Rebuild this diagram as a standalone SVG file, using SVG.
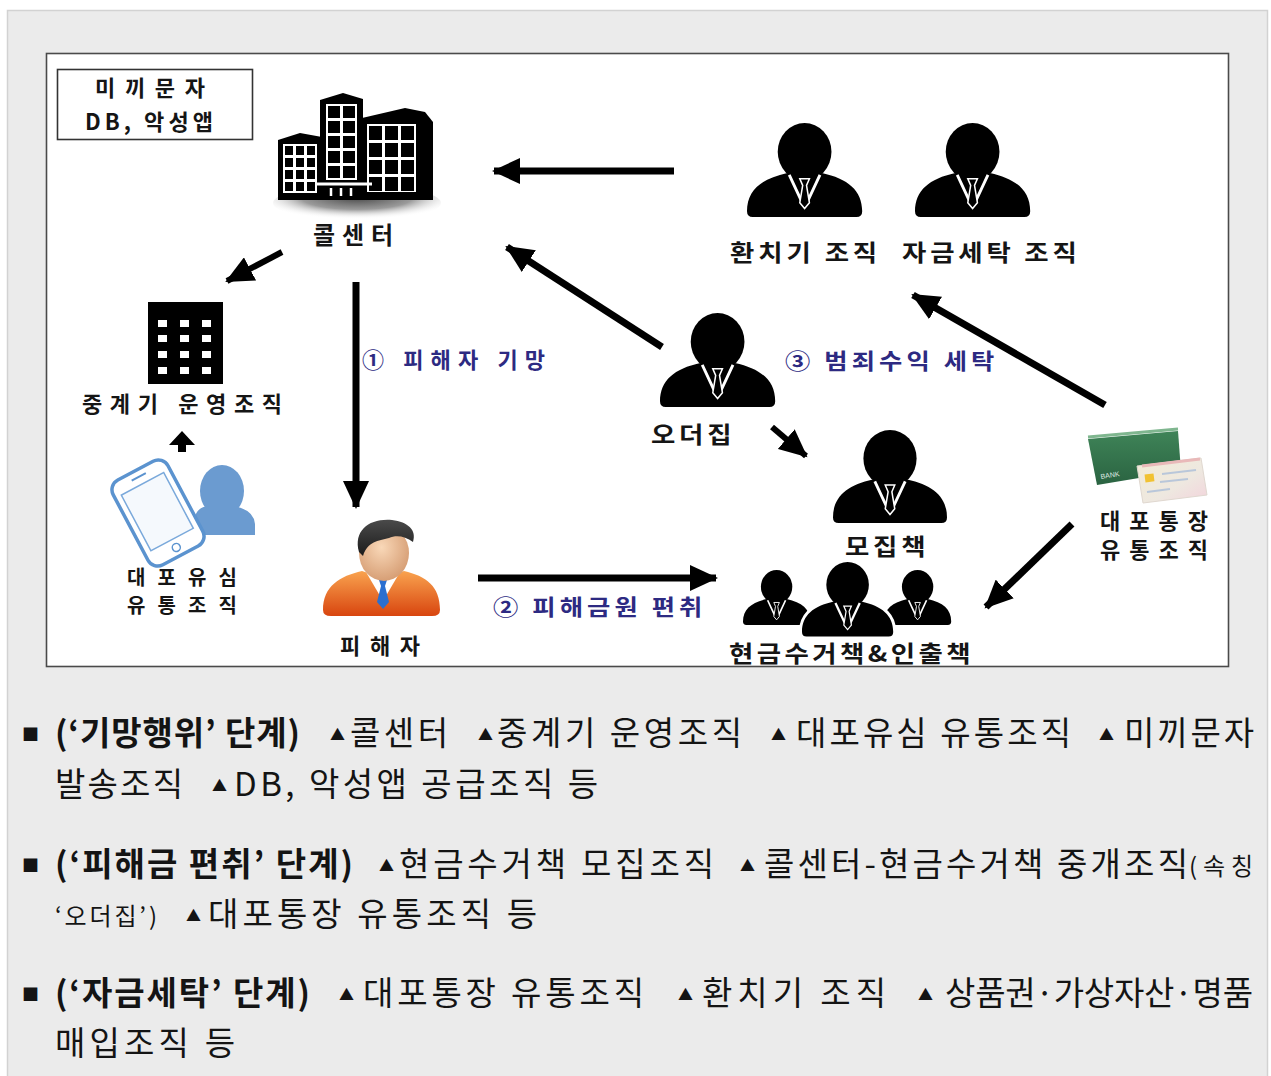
<svg xmlns="http://www.w3.org/2000/svg" xmlns:xlink="http://www.w3.org/1999/xlink" width="1271" height="1076" viewBox="0 0 1271 1076">
  <style>
    .lbl { font-family: "Noto Sans CJK KR", "Noto Sans", sans-serif; font-weight: 700; font-size: 22px; fill: #151515; }
    .wide { font-size: 23px; }
    .stage { font-family: "Noto Sans CJK KR", "Noto Sans", sans-serif; font-weight: 700; font-size: 22px; fill: #2d2a82; }
    .body { font-family: "Noto Sans CJK KR", "Noto Sans", sans-serif; font-size: 33px; fill: #141414; }
    .bold { font-weight: 700; }
    .sq { font-family: "Noto Sans CJK KR", "DejaVu Sans", sans-serif; font-size: 17px; fill: #141414; }
    .tri { font-family: "Noto Sans CJK KR", "DejaVu Sans", sans-serif; font-size: 15px; fill: #141414; }
    .sm { font-size: 24px; }
    .arrow { stroke: #000; stroke-width: 7; fill: none; }
    .thin { stroke-width: 6; }
  </style>
  <defs>
    <marker id="head" markerUnits="userSpaceOnUse" markerWidth="30" markerHeight="26" refX="26" refY="13" orient="auto">
      <path d="M0,0 L28,13 L0,26 Z" fill="#000"/>
    </marker>
    <!-- businessman silhouette, 120 x 98 -->
    <g id="person">
      <path d="M0,92 C0,70 15,58 42,52 L60,56 L78,52 C105,58 120,70 120,92 Q120,98 114,98 L6,98 Q0,98 0,92 Z"/>
      <ellipse cx="60" cy="30" rx="28" ry="30"/>
      <path d="M44,54 L58,84 M76,54 L62,84" stroke="#fff" stroke-width="3" fill="none"/>
      <path d="M55,58 L65,58 L62,65 L65,83 L60,89 L55,83 L58,65 Z" fill="#000" stroke="#fff" stroke-width="1.6"/>
    </g>
    <radialGradient id="shadow" cx="0.5" cy="0.35" r="0.6">
      <stop offset="0" stop-color="#4a4a4a"/>
      <stop offset="0.55" stop-color="#9a9a9a"/>
      <stop offset="1" stop-color="#ffffff" stop-opacity="0"/>
    </radialGradient>
    <radialGradient id="skin" cx="0.45" cy="0.4" r="0.65">
      <stop offset="0" stop-color="#f9d8b8"/>
      <stop offset="1" stop-color="#d49a70"/>
    </radialGradient>
    <linearGradient id="suit" x1="0" y1="0" x2="0" y2="1">
      <stop offset="0" stop-color="#f9a34f"/>
      <stop offset="1" stop-color="#d8450f"/>
    </linearGradient>
    <linearGradient id="hair" x1="0" y1="0" x2="0" y2="1">
      <stop offset="0" stop-color="#4a4a4a"/>
      <stop offset="1" stop-color="#1b1b1b"/>
    </linearGradient>
    <linearGradient id="green" x1="0" y1="0" x2="0" y2="1">
      <stop offset="0" stop-color="#3f8458"/>
      <stop offset="1" stop-color="#2a6341"/>
    </linearGradient>
    <linearGradient id="idcard" x1="0" y1="0" x2="1" y2="1">
      <stop offset="0" stop-color="#f2ecd6"/>
      <stop offset="0.6" stop-color="#eee8e0"/>
      <stop offset="1" stop-color="#f3d3dc"/>
    </linearGradient>
  </defs>

  <!-- page panel -->
  <rect x="0" y="0" width="1271" height="1076" fill="#ffffff"/>
  <rect x="7.5" y="10.5" width="1260" height="1070" fill="#ebebeb" stroke="#d2d2d2" stroke-width="1.5"/>

  <!-- diagram frame -->
  <rect x="46.5" y="53.5" width="1182" height="613" fill="#ffffff" stroke="#4a4a4a" stroke-width="1.6"/>

  <!-- connectors -->
  <g id="connectors">
    <line class="arrow" x1="674" y1="171" x2="494" y2="171" marker-end="url(#head)"/>
    <line class="arrow thin" x1="282" y1="252" x2="227" y2="281" marker-end="url(#head)"/>
    <line class="arrow" x1="356" y1="282" x2="356" y2="507" marker-end="url(#head)"/>
    <line class="arrow" x1="662" y1="347" x2="507" y2="247" marker-end="url(#head)"/>
    <line class="arrow" x1="1105" y1="405" x2="913" y2="295" marker-end="url(#head)"/>
    <line class="arrow thin" x1="772" y1="427" x2="806" y2="456" marker-end="url(#head)"/>
    <line class="arrow" x1="1072" y1="524" x2="986" y2="607" marker-end="url(#head)"/>
    <line class="arrow" x1="478" y1="578" x2="716" y2="578" marker-end="url(#head)"/>
    <path d="M178,452 L178,445 L169,445 L182,431 L195,445 L186,445 L186,452 Z" fill="#000"/>
  </g>

  <!-- bait SMS / DB / malicious app suppliers -->
  <g id="node-bait">
    <rect x="57.5" y="69.5" width="195" height="70" fill="#fff" stroke="#333" stroke-width="1.6"/>
    <text class="lbl" x="95" y="96" textLength="110">미끼문자</text>
    <text class="lbl" x="85" y="130" textLength="128">DB, 악성앱</text>
  </g>

  <!-- call center -->
  <g id="node-callcenter">
    <ellipse cx="357" cy="203" rx="84" ry="18" fill="url(#shadow)"/>
    <path d="M278,140 L300,133 L322,137 L322,198 L278,198 Z" fill="#000"/>
    <rect x="283" y="144" width="34" height="49" fill="#fff"/>
    <g fill="#000">
      <rect x="285" y="146" width="8" height="9"/><rect x="296" y="146" width="8" height="9"/><rect x="307" y="146" width="8" height="9"/>
      <rect x="285" y="158" width="8" height="9"/><rect x="296" y="158" width="8" height="9"/><rect x="307" y="158" width="8" height="9"/>
      <rect x="285" y="170" width="8" height="9"/><rect x="296" y="170" width="8" height="9"/><rect x="307" y="170" width="8" height="9"/>
      <rect x="285" y="182" width="8" height="9"/><rect x="296" y="182" width="8" height="9"/><rect x="307" y="182" width="8" height="9"/>
    </g>
    <path d="M362,118 L405,108 L425,112 L433,122 L433,196 L362,198 Z" fill="#000"/>
    <rect x="367" y="124" width="49" height="68" fill="#fff"/>
    <g fill="#000">
      <rect x="369" y="126" width="13" height="14"/><rect x="385" y="126" width="13" height="14"/><rect x="401" y="126" width="13" height="14"/>
      <rect x="369" y="143" width="13" height="14"/><rect x="385" y="143" width="13" height="14"/><rect x="401" y="143" width="13" height="14"/>
      <rect x="369" y="160" width="13" height="14"/><rect x="385" y="160" width="13" height="14"/><rect x="401" y="160" width="13" height="14"/>
      <rect x="369" y="177" width="13" height="14"/><rect x="385" y="177" width="13" height="14"/><rect x="401" y="177" width="13" height="14"/>
    </g>
    <path d="M320,100 L343,93 L363,99 L363,190 L320,190 Z" fill="#000"/>
    <rect x="326" y="104" width="31" height="76" fill="#fff"/>
    <g fill="#000">
      <rect x="328" y="106" width="12" height="12"/><rect x="343" y="106" width="12" height="12"/>
      <rect x="328" y="121" width="12" height="12"/><rect x="343" y="121" width="12" height="12"/>
      <rect x="328" y="136" width="12" height="12"/><rect x="343" y="136" width="12" height="12"/>
      <rect x="328" y="151" width="12" height="12"/><rect x="343" y="151" width="12" height="12"/>
      <rect x="328" y="166" width="12" height="12"/><rect x="343" y="166" width="12" height="12"/>
    </g>
    <path d="M316,184 L372,184" stroke="#fff" stroke-width="3"/>
    <rect x="322" y="186" width="42" height="12" fill="#000"/>
    <path d="M331,188 L331,198 M341,188 L341,198 M351,188 L351,198" stroke="#fff" stroke-width="2.5"/>
    <rect x="278" y="196" width="155" height="4" fill="#000"/>
    <text class="lbl" x="313" y="244" textLength="80" style="font-size:24px">콜센터</text>
  </g>

  <!-- SIM-box operators -->
  <g id="node-simbox">
    <rect x="148" y="302" width="75" height="82" fill="#000"/>
    <g fill="#fff">
      <rect x="158" y="320" width="9" height="7"/><rect x="180" y="320" width="9" height="7"/><rect x="202" y="320" width="9" height="7"/>
      <rect x="158" y="335" width="9" height="7"/><rect x="180" y="335" width="9" height="7"/><rect x="202" y="335" width="9" height="7"/>
      <rect x="158" y="351" width="9" height="7"/><rect x="180" y="351" width="9" height="7"/><rect x="202" y="351" width="9" height="7"/>
      <rect x="158" y="367" width="9" height="7"/><rect x="180" y="367" width="9" height="7"/><rect x="202" y="367" width="9" height="7"/>
    </g>
    <text class="lbl" x="82" y="412" textLength="200">중계기 운영조직</text>
  </g>

  <!-- burner SIM distributors -->
  <g id="node-sim">
    <ellipse cx="222" cy="491" rx="22" ry="26" fill="#6b9bd0"/>
    <path d="M195,535 L195,516 Q199,505 212,506 L234,506 Q254,510 255,524 L255,535 Z" fill="#6b9bd0"/>
    <g transform="rotate(-28 158 513)">
      <rect x="127" y="465" width="62" height="96" rx="11" fill="#fff" stroke="#5b93cf" stroke-width="3.5"/>
      <rect x="134" y="480" width="48" height="63" fill="#f5f9fd" stroke="#7aa9db" stroke-width="1.5"/>
      <path d="M150,472 L166,472" stroke="#5b93cf" stroke-width="2"/>
      <circle cx="158" cy="552" r="4" fill="none" stroke="#5b93cf" stroke-width="1.5"/>
    </g>
    <text class="lbl" x="127" y="585" textLength="110" style="font-size:20px">대포유심</text>
    <text class="lbl" x="127" y="613" textLength="110" style="font-size:20px">유통조직</text>
  </g>

  <!-- victim -->
  <g id="node-victim">
    <path d="M323,610 C323,586 340,576 362,571 L383,578 L404,571 C426,576 440,586 440,610 Q440,616 432,616 L331,616 Q323,616 323,610 Z" fill="url(#suit)"/>
    <path d="M366,572 L383,601 L400,572 Z" fill="#fff"/>
    <path d="M379,580 L387,580 L385,586 L389,602 L383,609 L377,602 L381,586 Z" fill="#2a6fd0"/>
    <ellipse cx="384" cy="553" rx="25" ry="28" fill="url(#skin)"/>
    <path d="M359,552 C353,530 370,518 392,520 C408,522 417,530 413,542 C405,536 396,535 389,538 C378,541 368,541 363,556 Z" fill="url(#hair)"/>
    <text class="lbl" x="340" y="654" textLength="80">피해자</text>
  </g>

  <!-- money exchange and laundering groups -->
  <g id="node-exchange">
    <use href="#person" transform="translate(747,123) scale(0.96)"/>
    <text class="lbl wide" transform="translate(730,261) scale(1.15,1)" textLength="128">환치기 조직</text>
  </g>
  <g id="node-laundering">
    <use href="#person" transform="translate(915,123) scale(0.96)"/>
    <text class="lbl wide" transform="translate(902,261) scale(1.15,1)" textLength="152">자금세탁 조직</text>
  </g>

  <!-- order house -->
  <g id="node-orderhouse">
    <use href="#person" transform="translate(660,313) scale(0.96)"/>
    <text class="lbl wide" transform="translate(651,443) scale(1.15,1)" textLength="70">오더집</text>
  </g>

  <!-- recruiter -->
  <g id="node-recruiter">
    <use href="#person" transform="translate(833,430) scale(0.95)"/>
    <text class="lbl wide" transform="translate(845,555) scale(1.15,1)" textLength="70">모집책</text>
  </g>

  <!-- cash couriers and withdrawers -->
  <g id="node-couriers">
    <use href="#person" transform="translate(743,570) scale(0.56)"/>
    <use href="#person" transform="translate(884,570) scale(0.56)"/>
    <use href="#person" transform="translate(802,562) scale(0.76)" style="stroke:#fff;stroke-width:8"/>
    <use href="#person" transform="translate(802,562) scale(0.76)"/>
    <text class="lbl wide" transform="translate(729,662) scale(1.15,1)" textLength="210">현금수거책&amp;인출책</text>
  </g>

  <!-- borrowed-name account distributors -->
  <g id="node-accounts">
    <path d="M1088,439 L1178,431 L1181,471 L1097,485 Z" fill="url(#green)"/>
    <path d="M1088,437 L1178,429" stroke="#7fb68f" stroke-width="3"/>
    <text x="1101" y="479" font-family="Liberation Sans, sans-serif" font-size="7" fill="#dfe9e2" transform="rotate(-9 1101 479)">BANK</text>
    <path d="M1137,466 L1201,458 L1207,495 L1143,503 Z" fill="url(#idcard)" stroke="#e0d8d0" stroke-width="1"/>
    <path d="M1142,466 L1200,459" stroke="#e9b9b9" stroke-width="3"/>
    <rect x="1145" y="474" width="9" height="8" fill="#f1c232" transform="rotate(-7 1149 478)"/>
    <path d="M1162,474 L1196,470 M1160,482 L1188,479 M1147,492 L1170,489" stroke="#b9c7da" stroke-width="2"/>
    <text class="lbl" x="1100" y="529" textLength="108">대포통장</text>
    <text class="lbl" x="1100" y="558" textLength="108">유통조직</text>
  </g>

  <!-- stage captions -->
  <g id="stage-labels">
    <text class="stage" x="362" y="368" textLength="183">① 피해자 기망</text>
    <text class="stage" transform="translate(493,615) scale(1.15,1)" textLength="182">② 피해금원 편취</text>
    <text class="stage" transform="translate(785,369) scale(1.15,1)" textLength="182">③ 범죄수익 세탁</text>
  </g>

  <!-- explanatory notes -->
  <g id="notes">
    <text class="sq" x="22" y="741">■</text>
    <text class="body bold" x="55" y="745" textLength="245">(‘기망행위’ 단계)</text>
    <text class="tri" x="330" y="740">▲</text>
    <text class="body" x="350" y="745" textLength="98">콜센터</text>
    <text class="tri" x="478" y="740">▲</text>
    <text class="body" x="497" y="745" textLength="245">중계기 운영조직</text>
    <text class="tri" x="771" y="740">▲</text>
    <text class="body" x="796" y="745" textLength="275">대포유심 유통조직</text>
    <text class="tri" x="1099" y="740">▲</text>
    <text class="body" x="1124" y="745" textLength="130">미끼문자</text>

    <text class="body" x="55" y="796" textLength="128">발송조직</text>
    <text class="tri" x="212" y="791">▲</text>
    <text class="body" x="234" y="796" textLength="364">DB, 악성앱 공급조직 등</text>

    <text class="sq" x="22" y="872">■</text>
    <text class="body bold" x="55" y="876" textLength="298">(‘피해금 편취’ 단계)</text>
    <text class="tri" x="379" y="871">▲</text>
    <text class="body" x="399" y="876" textLength="315">현금수거책 모집조직</text>
    <text class="tri" x="740" y="871">▲</text>
    <text class="body" x="764" y="876" textLength="424">콜센터-현금수거책 중개조직</text>
    <text class="body sm" x="1189" y="875" textLength="64">(속칭</text>

    <text class="body sm" x="55" y="925" textLength="102">‘오더집’)</text>
    <text class="tri" x="186" y="921">▲</text>
    <text class="body" x="208" y="926" textLength="329">대포통장 유통조직 등</text>

    <text class="sq" x="22" y="1001">■</text>
    <text class="body bold" x="55" y="1005" textLength="255">(‘자금세탁’ 단계)</text>
    <text class="tri" x="339" y="1000">▲</text>
    <text class="body" x="363" y="1005" textLength="281">대포통장 유통조직</text>
    <text class="tri" x="678" y="1000">▲</text>
    <text class="body" x="702" y="1005" textLength="184">환치기 조직</text>
    <text class="tri" x="918" y="1000">▲</text>
    <text class="body" x="945" y="1005" textLength="308">상품권·가상자산·명품</text>

    <text class="body" x="55" y="1055" textLength="180">매입조직 등</text>
  </g>
</svg>
